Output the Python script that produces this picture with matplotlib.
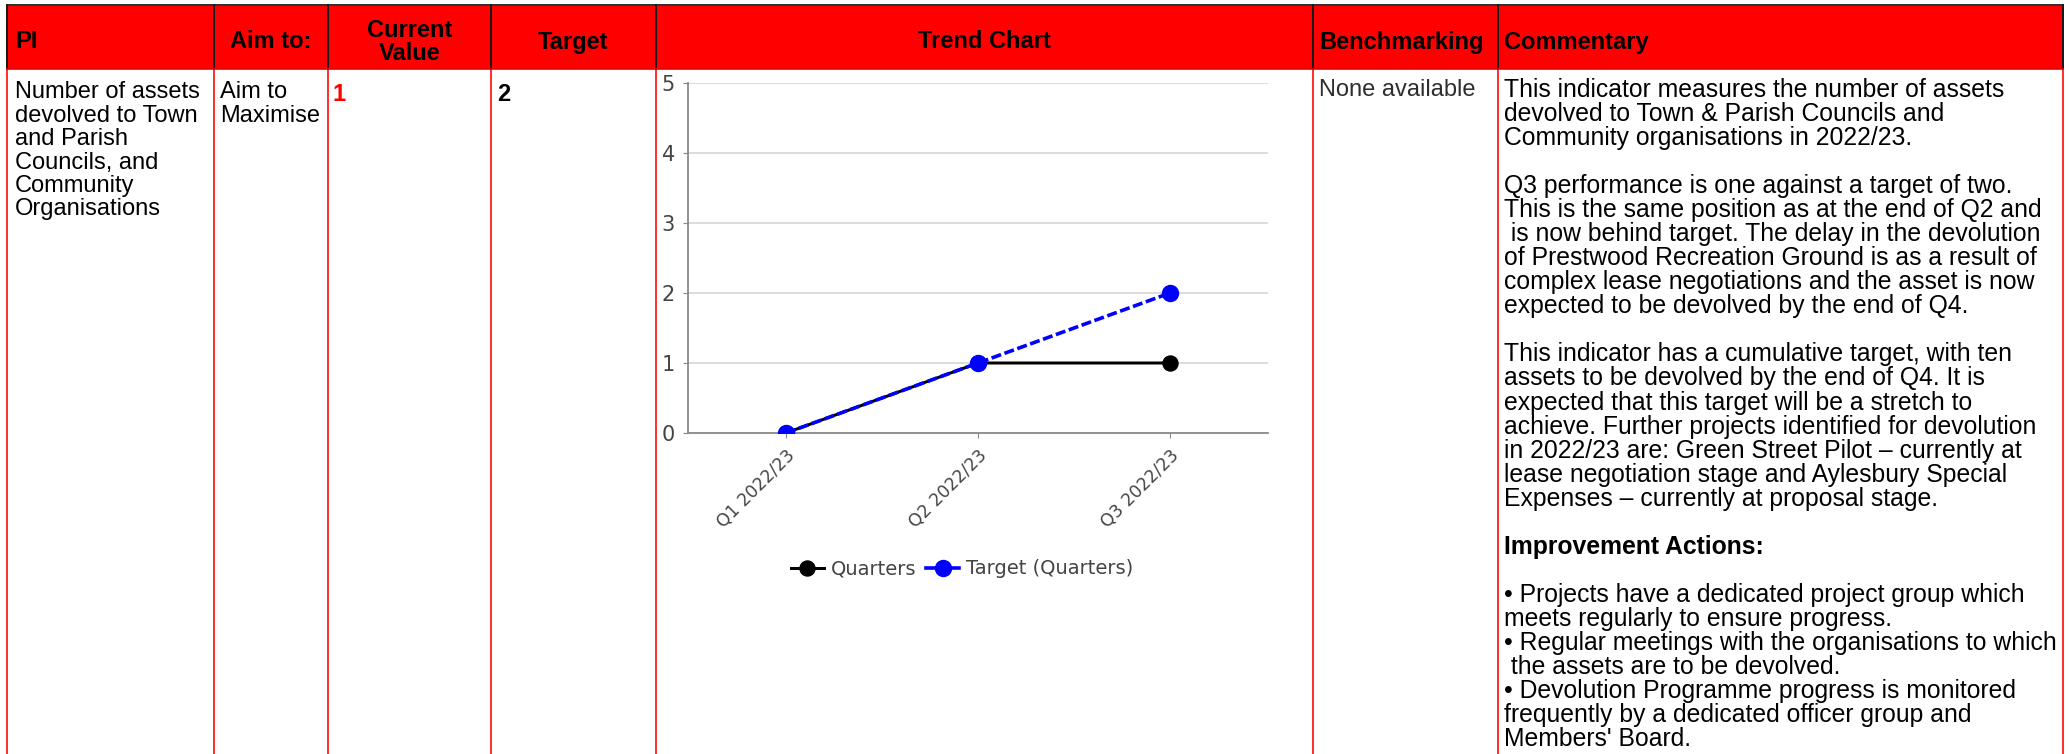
import matplotlib
matplotlib.use("Agg")
import matplotlib.pyplot as plt
from matplotlib.patches import Rectangle
from matplotlib.lines import Line2D

# ---- data -------------------------------------------------------------
quarters = ["Q1 2022/23", "Q2 2022/23", "Q3 2022/23"]
actual_values = [0, 1, 1]
target_values = [0, 1, 2]
y_ticks = [0, 1, 2, 3, 4, 5]

header_labels = ["PI", "Aim to:", "Current\nValue", "Target", "Trend Chart",
                 "Benchmarking", "Commentary"]
pi_lines = ["Number of assets", "devolved to Town", "and Parish",
            "Councils, and", "Community", "Organisations"]
aim_lines = ["Aim to", "Maximise"]
current_value = "1"
target_value = "2"
benchmark_text = "None available"
commentary_lines = [
    "This indicator measures the number of assets",
    "devolved to Town & Parish Councils and",
    "Community organisations in 2022/23.",
    "",
    "Q3 performance is one against a target of two.",
    "This is the same position as at the end of Q2 and",
    " is now behind target. The delay in the devolution",
    "of Prestwood Recreation Ground is as a result of",
    "complex lease negotiations and the asset is now",
    "expected to be devolved by the end of Q4.",
    "",
    "This indicator has a cumulative target, with ten",
    "assets to be devolved by the end of Q4. It is",
    "expected that this target will be a stretch to",
    "achieve. Further projects identified for devolution",
    "in 2022/23 are: Green Street Pilot \u2013 currently at",
    "lease negotiation stage and Aylesbury Special",
    "Expenses \u2013 currently at proposal stage.",
    "",
    "Improvement Actions:",
    "",
    "\u2022 Projects have a dedicated project group which",
    "meets regularly to ensure progress.",
    "\u2022 Regular meetings with the organisations to which",
    " the assets are to be devolved.",
    "\u2022 Devolution Programme progress is monitored",
    "frequently by a dedicated officer group and",
    "Members' Board.",
]
bold_commentary = {"Improvement Actions:"}

# ---- figure & page layer (pixel coordinates) ---------------------------
W, H = 2069, 754
DPI = 100
fig = plt.figure(figsize=(W / DPI, H / DPI), dpi=DPI)
page = fig.add_axes([0, 0, 1, 1])
page.set_xlim(0, W)
page.set_ylim(H, 0)
page.axis("off")

TXT = "Liberation Sans"
RED = "#ff0000"
px = 72.0 / DPI  # pixels -> points

col_x = [7, 214, 328, 491, 656, 1313, 1498, 2063]
head_top, head_bot = 5, 69

# header band
page.add_patch(Rectangle((col_x[0], head_top), col_x[-1] - col_x[0],
                         head_bot - head_top, facecolor=RED, edgecolor="none"))
page.add_line(Line2D([col_x[0], col_x[-1]], [head_top, head_top],
                     color="#333333", lw=2 * px))
for x in col_x:
    page.add_line(Line2D([x, x], [head_top, head_bot], color="#1a1a1a", lw=2 * px))
    page.add_line(Line2D([x, x], [head_bot, H], color=RED, lw=1.6 * px))
page.add_line(Line2D([col_x[0], col_x[-1]], [head_bot, head_bot],
                     color="#e00000", lw=1.6 * px))

# header labels
hsize = 17
head_y = 42
page.text(15, head_y, header_labels[0], fontsize=hsize, fontweight="bold",
          family=TXT, ha="left", va="center")
for i in (1, 2, 3, 4):
    page.text((col_x[i] + col_x[i + 1]) / 2, head_y, header_labels[i],
              fontsize=hsize, fontweight="bold", family=TXT, ha="center",
              va="center", linespacing=0.95)
page.text(1319, head_y, header_labels[5], fontsize=hsize, fontweight="bold",
          family=TXT, ha="left", va="center")
page.text(1504, head_y, header_labels[6], fontsize=hsize, fontweight="bold",
          family=TXT, ha="left", va="center")

# body cells
bsize = 17
base_off = 7
for k, line in enumerate(pi_lines):
    page.text(15, 91 + 23.5 * k + base_off, line, fontsize=bsize, family=TXT,
              ha="left", va="baseline")
for k, line in enumerate(aim_lines):
    page.text(220, 91 + 23.5 * k + base_off, line, fontsize=bsize, family=TXT,
              ha="left", va="baseline")
page.text(333, 93 + 8, current_value, fontsize=hsize, fontweight="bold",
          family=TXT, color=RED, ha="left", va="baseline")
page.text(497, 93 + 8, target_value, fontsize=hsize, fontweight="bold",
          family=TXT, color="black", ha="left", va="baseline")
page.text(1319, 89 + base_off, benchmark_text, fontsize=bsize, family=TXT,
          color="#2e2e2e", ha="left", va="baseline")

csize = 17.8
for k, line in enumerate(commentary_lines):
    if not line:
        continue
    page.text(1504, 90 + 24.04 * k + base_off, line, fontsize=csize,
              family=TXT, ha="left", va="baseline",
              fontweight="bold" if line in bold_commentary else "normal")

# ---- trend chart --------------------------------------------------------
ax_l, ax_r, ax_t, ax_b = 688, 1268, 83, 433
ax = fig.add_axes([ax_l / W, 1 - ax_b / H, (ax_r - ax_l) / W, (ax_b - ax_t) / H])
ax.set_facecolor("white")
xpos = list(range(len(quarters)))
ax.plot(xpos, actual_values, color="black", lw=3 * px, marker="o",
        markersize=15 * px, label="Quarters", zorder=3)
ax.plot(xpos, target_values, color="#0000ff", lw=3.6 * px, marker="o",
        markersize=16 * px, dashes=(2.8, 1.0), label="Target (Quarters)",
        zorder=4)
ax.set_xlim(-0.51, 2.51)
ax.set_ylim(0, 5)
ax.set_yticks(y_ticks)
ax.set_xticks(xpos)
ax.set_xticklabels(quarters, rotation=45, ha="right", rotation_mode="anchor",
                   fontsize=12.5, color="#444444", family="DejaVu Sans")
ax.set_yticklabels([str(v) for v in y_ticks], fontsize=15, color="#444444",
                   family="DejaVu Sans")
ax.grid(axis="y", color="#d4d4d4", lw=1.6 * px)
ax.set_axisbelow(True)
for s in ("top", "right"):
    ax.spines[s].set_visible(False)
for s in ("left", "bottom"):
    ax.spines[s].set_color("#8a8a8a")
    ax.spines[s].set_linewidth(1.8 * px)
ax.tick_params(axis="y", length=5 * px, width=1.2 * px, color="#8a8a8a",
               pad=8 * px)
ax.tick_params(axis="x", length=5 * px, width=1.2 * px, color="#8a8a8a",
               pad=8 * px)

leg = ax.legend(loc="center", bbox_to_anchor=(962 / W, 1 - 569 / H),
                bbox_transform=fig.transFigure, ncol=2, frameon=False,
                handlelength=1.7, handletextpad=0.35, columnspacing=0.5,
                prop={"family": "DejaVu Sans", "size": 14})
for t in leg.get_texts():
    t.set_color("#444444")
for h in leg.legend_handles:
    h.set_linestyle("-")

fig.savefig("out.png", dpi=DPI, facecolor="white")
